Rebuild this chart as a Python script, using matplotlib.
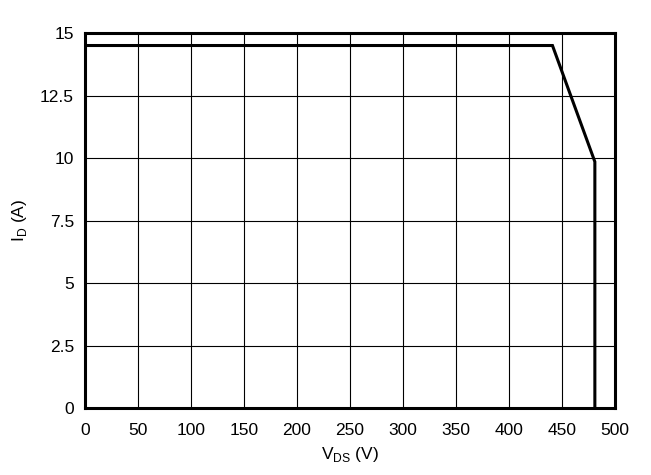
import matplotlib
matplotlib.use("Agg")
import matplotlib.pyplot as plt

plt.rcParams["font.family"] = ["Liberation Sans", "DejaVu Sans"]

vds = [0, 441, 481, 481]
i_d = [14.5, 14.5, 9.85, 0]

x_ticks = list(range(0, 501, 50))
y_ticks = [0, 2.5, 5, 7.5, 10, 12.5, 15]
y_labels = ["0", "2.5", "5", "7.5", "10", "12.5", "15"]

fig = plt.figure(figsize=(6.51, 4.75), dpi=100)
ax = fig.add_axes([0.1306, 0.141, 0.8141, 0.7895])

ax.plot(vds, i_d, color="black", linewidth=2.2, solid_joinstyle="miter")

ax.set_xlim(0, 500)
ax.set_ylim(0, 15)
ax.set_xticks(x_ticks)
ax.set_yticks(y_ticks)
ax.set_yticklabels(y_labels)
ax.grid(True, color="black", linewidth=0.8)
ax.tick_params(length=0, labelsize=12.5)
ax.tick_params(axis="x", pad=11)
ax.tick_params(axis="y", pad=8)
for s in ax.spines.values():
    s.set_linewidth(2.2)

ax.set_xlabel(r"V$_{\mathregular{DS}}$ (V)", fontsize=12.5, labelpad=5)
ax.set_ylabel(r"I$_{\mathregular{D}}$ (A)", fontsize=12.5, labelpad=8)

fig.savefig("out.png", dpi=100)
